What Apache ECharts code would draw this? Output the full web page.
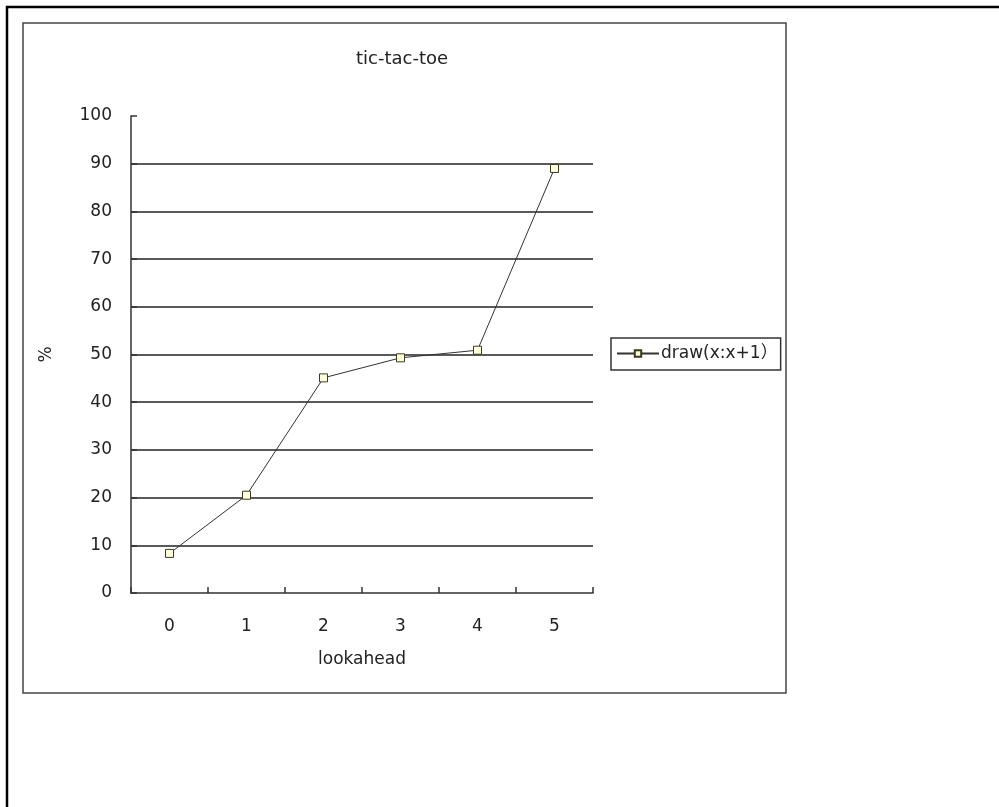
<!DOCTYPE html>
<html>
<head>
<meta charset="utf-8">
<script src="https://cdn.jsdelivr.net/npm/echarts@6/dist/echarts.min.js"></script>
<style>
  html, body { margin: 0; padding: 0; background: #fff; }
  #chart { width: 999px; height: 807px; }
</style>
</head>
<body>
<div id="chart"></div>
<script>
// Lookahead depth vs. percentage of drawn games
const categories = ['0', '1', '2', '3', '4', '5'];
const drawValues = [8.3, 20.5, 45.1, 49.3, 50.9, 89.0];
const seriesName = 'draw(x:x+1\uFF09';
const titleText = 'tic-tac-toe';
const xAxisName = 'lookahead';
const yAxisName = '%';

const FONT = '"DejaVu Sans", "Noto Sans CJK JP", sans-serif';
const INK = '#222';

const chart = echarts.init(document.getElementById('chart'), null, { renderer: 'canvas' });

chart.setOption({
  backgroundColor: '#fff',
  animation: false,
  title: {
    text: titleText,
    left: 397,
    top: 45,
    textAlign: 'center',
    textStyle: { fontFamily: FONT, fontSize: 18, fontWeight: 'normal', color: INK }
  },
  legend: {
    left: 611,
    top: 338,
    padding: [7, 3, 8, 5],
    borderColor: '#333',
    borderWidth: 1.5,
    itemWidth: 42,
    itemHeight: 8,
    itemGap: 0,
    textStyle: { fontFamily: FONT, fontSize: 17, color: INK, padding: [0, 0, 0, -3] },
    data: [seriesName]
  },
  grid: { left: 131, right: 406, top: 116, bottom: 214 },
  xAxis: {
    type: 'category',
    data: categories,
    boundaryGap: true,
    name: xAxisName,
    nameLocation: 'middle',
    nameGap: 58,
    nameTextStyle: { fontFamily: FONT, fontSize: 17, color: INK },
    axisLine: { show: true, lineStyle: { color: '#333', width: 1.5 } },
    axisTick: { show: true, interval: 0, inside: true, length: 6, lineStyle: { color: '#333', width: 1.5 } },
    axisLabel: { margin: 25, fontFamily: FONT, fontSize: 17, color: INK },
    splitLine: { show: false }
  },
  yAxis: {
    type: 'value',
    min: 0,
    max: 100,
    interval: 10,
    name: yAxisName,
    nameLocation: 'middle',
    nameGap: 76,
    nameRotate: 90,
    nameTextStyle: { fontFamily: FONT, fontSize: 17, color: INK },
    axisLine: { show: true, lineStyle: { color: '#333', width: 1.5 } },
    axisTick: { show: true, inside: true, length: 6, lineStyle: { color: '#333', width: 1.5 } },
    axisLabel: { margin: 19, fontFamily: FONT, fontSize: 17, color: INK, padding: [3, 0, 0, 0] },
    splitLine: {
      show: true,
      lineStyle: { color: '#222', width: 1.5 },
      showMinLine: false,
      showMaxLine: false
    }
  },
  series: [{
    name: seriesName,
    type: 'line',
    data: drawValues,
    symbol: 'rect',
    symbolSize: 8,
    showAllSymbol: true,
    lineStyle: { color: '#333', width: 1 },
    itemStyle: { color: '#ffffdd', borderColor: '#3a3a20', borderWidth: 1 }
  }],
  graphic: [
    // page frame: top and left rules
    { type: 'line', shape: { x1: 6, y1: 7, x2: 999, y2: 7 }, style: { stroke: '#000', lineWidth: 2.5 } },
    { type: 'line', shape: { x1: 7, y1: 6, x2: 7, y2: 807 }, style: { stroke: '#000', lineWidth: 2.5 } },
    // chart area border
    { type: 'rect', shape: { x: 23, y: 23, width: 763, height: 670 }, style: { fill: null, stroke: '#444', lineWidth: 1.5 }, z: -1 }
  ]
});
</script>
</body>
</html>
